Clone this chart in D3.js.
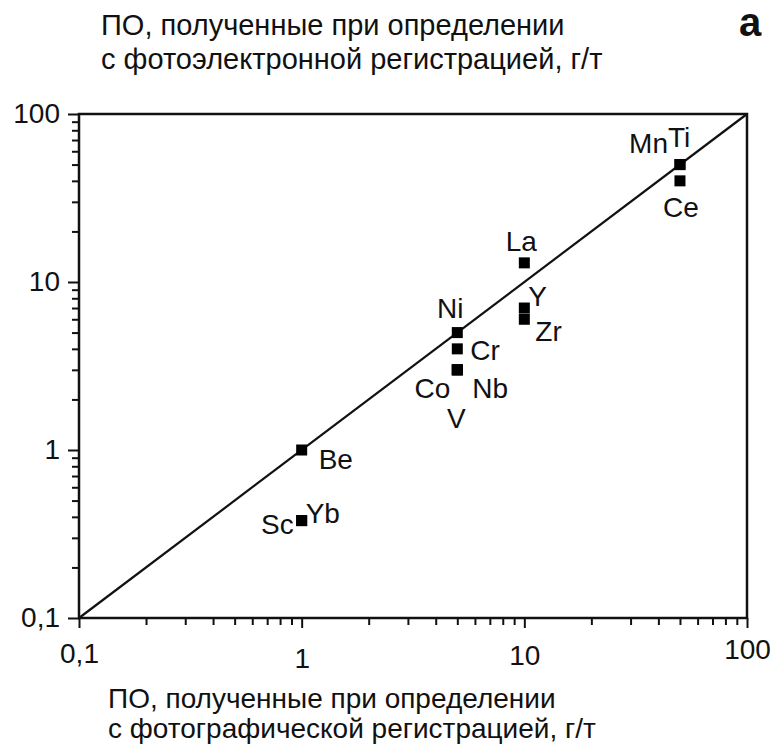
<!DOCTYPE html>
<html>
<head>
<meta charset="utf-8">
<script src="https://cdnjs.cloudflare.com/ajax/libs/d3/7.8.5/d3.min.js"></script>
<style>
  body { margin: 0; background: #fff; }
  text { font-family: "Liberation Sans", Arial, sans-serif; fill: #111; }
</style>
</head>
<body>
<div id="app"></div>
<script>
// elements and detection limits (g/t)
let elements = ['Be', 'Sc', 'Yb', 'Ni', 'Cr', 'Co', 'Nb', 'V', 'La', 'Y', 'Zr', 'Mn', 'Ti', 'Ce'];
let photoValues = [1, 1, 1, 5, 5, 5, 5, 5, 10, 10, 10, 50, 50, 50];            // x: photographic
let photoelectronValues = [1, 0.38, 0.38, 5, 4, 3, 3, 3, 13, 7, 6, 50, 50, 40]; // y: photoelectronic

let majorTicks = [0.1, 1, 10, 100];
let tickLabels = ['0,1', '1', '10', '100'];

let yTitle = ['ПО, полученные при определении', 'с фотоэлектронной регистрацией, г/т'];
let xTitle = ['ПО, полученные при определении', 'с фотографической регистрацией, г/т'];
let panelLetter = 'а';

// where each element name sits relative to its square
let labelOffsets = {
  Be: [17, 19, 'start'],
  Sc: [-8, 13, 'end'],
  Yb: [4, 2, 'start'],
  Ni: [-7, -15, 'middle'],
  Cr: [13, 11, 'start'],
  Co: [-7, 28, 'end'],
  Nb: [15, 28, 'start'],
  V: [-1, 58, 'middle'],
  La: [-3, -12, 'middle'],
  Y: [4, -2, 'start'],
  Zr: [11, 22, 'start'],
  Mn: [-12, -12, 'end'],
  Ti: [-12, -18, 'start'],
  Ce: [1, 36, 'middle']
};

// baseline of x tick labels below the axis (they are staggered in the original)
let xLabelDrop = { 0.1: 45, 1: 50, 10: 47, 100: 41 };

let margin = { top: 114, right: 29, bottom: 138, left: 79 };
let width = 776 - margin.left - margin.right;
let height = 756 - margin.top - margin.bottom;

let xScale = d3.scaleLog().domain([0.1, 100]).range([0, width]);
let yScale = d3.scaleLog().domain([0.1, 100]).range([height, 0]);

let minorTicks = xScale.ticks().filter(function(d) {
  return majorTicks.indexOf(d) < 0;
});

let svg = d3.select('#app').append('svg')
    .attr('width', 776)
    .attr('height', 756)
    .style('background', '#fff');

let chart = svg.append('g')
    .attr('transform', `translate(${margin.left}, ${margin.top})`);

// minor ticks
chart.append('g')
    .attr('transform', `translate(0, ${height})`)
    .call(d3.axisBottom(xScale).tickValues(minorTicks).tickSize(7).tickFormat(''));
chart.append('g')
    .call(d3.axisLeft(yScale).tickValues(minorTicks).tickSize(7).tickFormat(''));

// major ticks + labels
let xAxis = chart.append('g')
    .attr('transform', `translate(0, ${height})`)
    .call(d3.axisBottom(xScale).tickValues(majorTicks).tickSize(10)
      .tickFormat(function(d, i) { return tickLabels[i]; }));
xAxis.selectAll('text')
    .attr('y', function(d) { return xLabelDrop[d]; })
    .attr('dy', 0);

let yAxis = chart.append('g')
    .call(d3.axisLeft(yScale).tickValues(majorTicks).tickSize(11).tickPadding(8)
      .tickFormat(function(d, i) { return tickLabels[i]; }));

chart.selectAll('.domain').remove();
chart.selectAll('.tick line').attr('stroke', '#111').attr('stroke-width', 2);
chart.selectAll('.tick text')
    .style('font-family', '"Liberation Sans", Arial, sans-serif')
    .style('font-size', '28px')
    .attr('fill', '#111');

// frame
chart.append('rect')
    .attr('width', width)
    .attr('height', height)
    .attr('fill', 'none')
    .attr('stroke', '#111')
    .attr('stroke-width', 2.5);

// 1:1 line
chart.append('line')
    .attr('x1', xScale(0.1))
    .attr('y1', yScale(0.1))
    .attr('x2', xScale(100))
    .attr('y2', yScale(100))
    .attr('stroke', '#111')
    .attr('stroke-width', 2.2);

let sq = 11;

chart.selectAll('rect.pt')
    .data(elements)
    .enter()
    .append('rect')
      .attr('class', 'pt')
      .attr('x', function(d, i) { return xScale(photoValues[i]) - sq / 2; })
      .attr('y', function(d, i) { return yScale(photoelectronValues[i]) - sq / 2; })
      .attr('width', sq)
      .attr('height', sq)
      .attr('fill', '#000');

chart.selectAll('text.lbl')
    .data(elements)
    .enter()
    .append('text')
      .attr('class', 'lbl')
      .attr('x', function(d, i) { return xScale(photoValues[i]) + labelOffsets[d][0]; })
      .attr('y', function(d, i) { return yScale(photoelectronValues[i]) + labelOffsets[d][1]; })
      .attr('text-anchor', function(d) { return labelOffsets[d][2]; })
      .style('font-size', '28px')
      .text(function(d) { return d; });

// axis titles
svg.append('g')
  .selectAll('text')
    .data(yTitle)
    .enter()
    .append('text')
      .attr('x', 101)
      .attr('y', function(d, i) { return 35 + i * 34; })
      .style('font-size', '29px')
      .text(function(d) { return d; });

svg.append('g')
  .selectAll('text')
    .data(xTitle)
    .enter()
    .append('text')
      .attr('x', 108)
      .attr('y', function(d, i) { return 708 + i * 30; })
      .style('font-size', '28px')
      .text(function(d) { return d; });

svg.append('text')
    .attr('x', 750)
    .attr('y', 36)
    .attr('text-anchor', 'middle')
    .style('font-size', '40px')
    .style('font-weight', 'bold')
    .text(panelLetter);
</script>
</body>
</html>
